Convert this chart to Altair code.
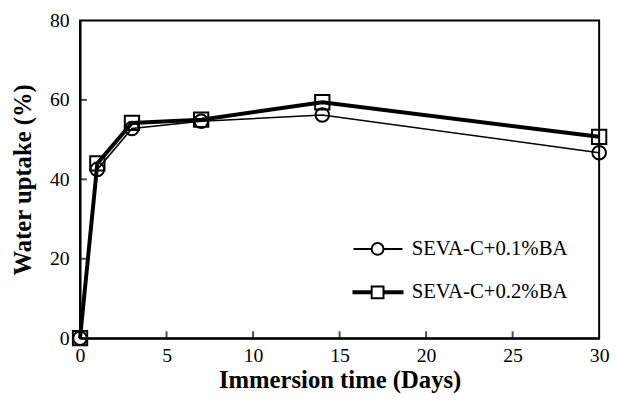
import altair as alt
import pandas as pd

days = [0, 1, 3, 7, 14, 30]
uptake_01 = [0, 42.5, 52.8, 54.6, 56.2, 46.7]
uptake_02 = [0, 44.0, 54.2, 55.0, 59.4, 50.7]
series_names = ["SEVA-C+0.1%BA", "SEVA-C+0.2%BA"]
x_ticks = [0, 5, 10, 15, 20, 25, 30]
y_ticks = [0, 20, 40, 60, 80]
x_inner_ticks = [5, 10, 15, 20, 25]
y_inner_ticks = [20, 40, 60]

df = pd.DataFrame({
    "day": days * 2,
    "uptake": uptake_01 + uptake_02,
    "series": [series_names[0]] * len(days) + [series_names[1]] * len(days),
})

W, H = 526, 322
FONT = "Liberation Serif"

circle_leg = "M-4.07,0L-1,0M1,0L4.2,0M-1,0A1,1,0,1,1,1,0A1,1,0,1,1,-1,0Z"
square_leg = ("M-4.07,-0.17L-1,-0.17L-1,0.17L-4.07,0.17Z"
              "M1,-0.17L4.2,-0.17L4.2,0.17L1,0.17Z"
              "M-1,-1L1,-1L1,1L-1,1Z")

x_enc = alt.X("day:Q", scale=alt.Scale(domain=[0, 30], nice=False),
              axis=alt.Axis(values=x_ticks, title="Immersion time (Days)", ticks=False,
                            labelFlush=False, labelPadding=8, titlePadding=2))
y_enc = alt.Y("uptake:Q", scale=alt.Scale(domain=[0, 80], nice=False),
              axis=alt.Axis(values=y_ticks, title="Water uptake (%)", ticks=False,
                            labelFlush=False, labelPadding=11, titlePadding=14))

lines = alt.Chart(df).mark_line(color="black").encode(
    x=x_enc, y=y_enc,
    detail="series:N",
    strokeWidth=alt.StrokeWidth("series:N", scale=alt.Scale(domain=series_names, range=[1.6, 4]), legend=None),
    order=alt.Order("day:Q"),
)

points = alt.Chart(df).mark_point(color="black", filled=False, strokeWidth=2, opacity=1).encode(
    x=x_enc, y=y_enc,
    shape=alt.Shape("series:N", scale=alt.Scale(domain=series_names, range=["circle", "square"]), legend=None),
    size=alt.Size("series:N", scale=alt.Scale(domain=series_names, range=[190, 210]), legend=None),
)

legend_layer = alt.Chart(df).mark_point(color="black", filled=False, opacity=0).encode(
    x=x_enc, y=y_enc,
    shape=alt.Shape("series:N", scale=alt.Scale(domain=series_names, range=[circle_leg, square_leg]),
                    legend=alt.Legend(title=None, orient="none", legendX=291, legendY=221,
                                      labelFont=FONT, labelFontSize=21, labelColor="black",
                                      labelOffset=24, rowPadding=22, symbolSize=144,
                                      symbolStrokeWidth=2, symbolStrokeColor="black",
                                      symbolFillColor="transparent", symbolOpacity=1, padding=0)),
)

xt = alt.Chart(pd.DataFrame({"day": x_inner_ticks})).mark_tick(color="black", size=7, thickness=2).encode(
    x=x_enc, y=alt.value(H - 3.5))
yt = alt.Chart(pd.DataFrame({"uptake": y_inner_ticks})).mark_tick(color="black", size=7, thickness=2).encode(
    y=y_enc, x=alt.value(3.5))

chart = alt.layer(xt, yt, lines, points, legend_layer).resolve_scale(shape="independent").properties(
    width=W, height=H,
    autosize=alt.AutoSizeParams(type="none"),
    padding={"left": 73, "top": 10, "right": 11, "bottom": 59},
).configure_view(stroke="black", strokeWidth=2).configure_axis(
    domainColor="black", domainWidth=2, labelFont=FONT, labelFontSize=20, labelColor="black",
    titleFont=FONT, titleFontSize=25, titleFontWeight="bold", titleColor="black", grid=False
)

chart.save("out.html", embed_options={"renderer": "svg", "actions": False})
